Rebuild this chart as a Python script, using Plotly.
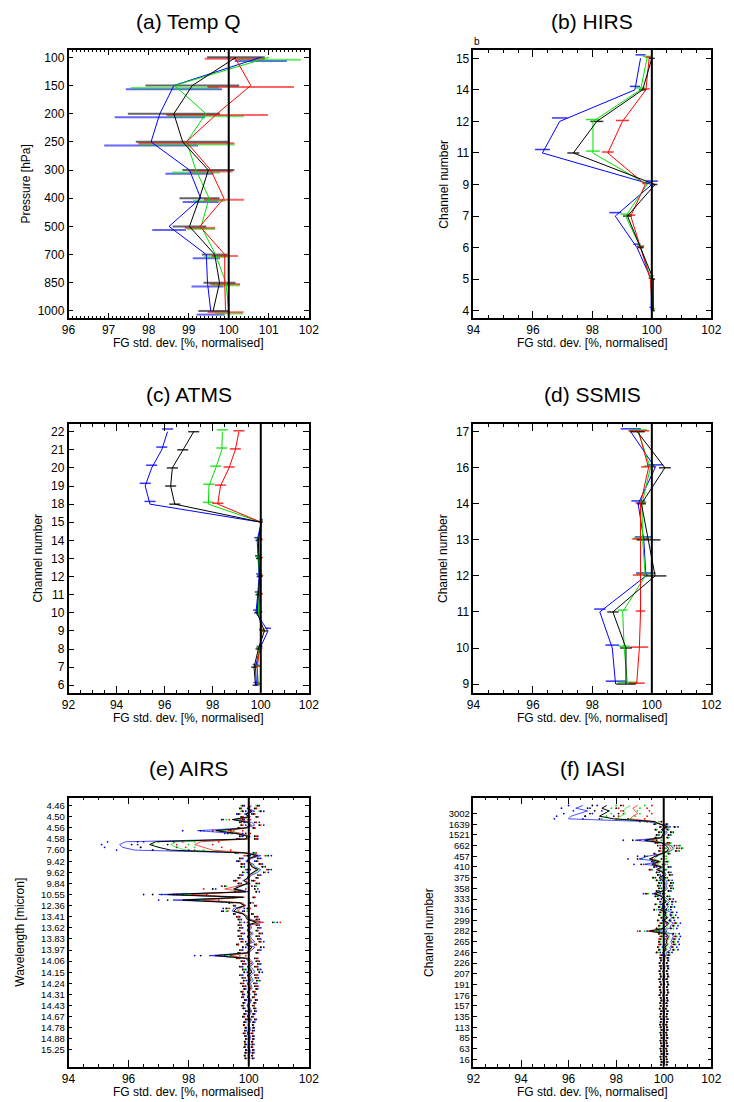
import plotly.graph_objects as go

W, H = 734, 1102
FONT = "Liberation Sans, Arial, sans-serif"
BLUE, GREEN, RED, BLACK = "#0000ff", "#00e000", "#ff0000", "#000000"

# ---------------- (a) Temp Q ----------------
tempq_levels = ["100", "150", "200", "250", "300", "400", "500", "700", "850", "1000"]
tempq_blue = [100.8, 98.63, 98.28, 98.06, 99.02, 99.30, 98.51, 99.44, 99.47, 99.55]
tempq_green = [101.0, 98.65, 99.43, 98.95, 99.18, 99.51, 99.31, 99.67, 99.93, 100.0]
tempq_red = [100.15, 100.55, 99.71, 98.94, 99.55, 99.88, 99.28, 99.90, 99.90, 99.92]
tempq_black = [100.18, 99.09, 98.63, 98.85, 99.49, 99.27, 99.02, 99.65, 99.77, 99.61]
tempq_blue_err = [0.65, 1.2, 1.13, 1.17, 0.6, 0.45, 0.42, 0.34, 0.4, 0.35]
tempq_green_err = [0.8, 1.1, 0.95, 1.2, 0.6, 0.4, 0.35, 0.3, 0.35, 0.35]
tempq_red_err = [0.75, 1.08, 1.27, 1.2, 0.55, 0.5, 0.38, 0.33, 0.38, 0.45]
tempq_black_err = [0.72, 1.17, 1.15, 1.17, 0.65, 0.5, 0.42, 0.32, 0.4, 0.37]

# ---------------- (b) HIRS ----------------
hirs_channels = ["15", "14", "12", "11", "9", "7", "6", "5", "4"]
hirs_blue = [99.62, 99.43, 96.9, 96.32, 100.0, 98.77, 99.5, 99.98, 99.98]
hirs_green = [99.84, 99.62, 98.02, 98.02, 99.84, 99.12, 99.62, 99.98, 100.05]
hirs_red = [99.91, 99.80, 99.01, 98.52, 99.78, 99.29, 99.62, 99.95, 100.02]
hirs_black = [100.0, 99.69, 98.15, 97.36, 100.11, 99.18, 99.62, 100.05, 100.05]
hirs_blue_err = [0.17, 0.17, 0.26, 0.25, 0.2, 0.2, 0.12, 0.08, 0.06]
hirs_green_err = [0.15, 0.15, 0.24, 0.23, 0.1, 0.17, 0.12, 0.06, 0.06]
hirs_red_err = [0.12, 0.13, 0.22, 0.2, 0.1, 0.15, 0.12, 0.06, 0.05]
hirs_black_err = [0.1, 0.12, 0.22, 0.2, 0.08, 0.15, 0.1, 0.06, 0.05]

# ---------------- (c) ATMS ----------------
atms_channels = ["22", "21", "20", "19", "18", "15", "14", "13", "12", "11", "10", "9", "8", "7", "6"]
atms_blue = [96.12, 95.88, 95.46, 95.19, 95.39, 100.02, 99.85, 99.88, 99.93, 99.87, 99.8, 100.3, 99.95, 99.78, 99.82]
atms_green = [98.4, 98.38, 98.13, 97.84, 97.82, 100.02, 99.93, 99.9, 99.95, 99.93, 99.9, 100.05, 99.93, 99.85, 99.9]
atms_red = [99.09, 98.94, 98.68, 98.32, 98.21, 100.02, 99.97, 99.97, 99.98, 99.97, 99.95, 100.05, 99.95, 99.85, 99.88]
atms_black = [97.21, 96.75, 96.32, 96.25, 96.42, 100.02, 99.9, 99.92, 99.95, 99.9, 99.85, 100.15, 99.9, 99.72, 99.78]
atms_err = [0.23, 0.23, 0.23, 0.23, 0.23, 0.06, 0.12, 0.12, 0.12, 0.12, 0.12, 0.12, 0.12, 0.12, 0.12]

# ---------------- (d) SSMIS ----------------
ssmis_channels = ["17", "16", "14", "13", "12", "11", "10", "9"]
ssmis_blue = [99.29, 100.11, 99.54, 99.73, 99.80, 98.25, 98.67, 98.78]
ssmis_green = [99.54, 99.95, 99.67, 99.69, 99.78, 99.02, 99.07, 99.18]
ssmis_red = [99.56, 99.89, 99.62, 99.62, 99.62, 99.62, 99.58, 99.49]
ssmis_black = [99.51, 100.44, 99.65, 99.89, 100.11, 98.69, 99.13, 99.13]
ssmis_blue_err = [0.34, 0.27, 0.23, 0.3, 0.33, 0.19, 0.23, 0.33]
ssmis_green_err = [0.3, 0.2, 0.15, 0.3, 0.3, 0.16, 0.19, 0.33]
ssmis_red_err = [0.35, 0.25, 0.17, 0.28, 0.26, 0.16, 0.3, 0.27]
ssmis_black_err = [0.25, 0.2, 0.15, 0.4, 0.38, 0.19, 0.2, 0.33]

# ---------------- (e) AIRS ----------------
airs_labels = ["4.46", "4.50", "4.56", "4.58", "7.60", "9.42", "9.62", "9.84", "10.55", "12.36", "13.41",
               "13.62", "13.83", "13.97", "14.06", "14.15", "14.24", "14.31", "14.43", "14.67", "14.78",
               "14.88", "15.25"]
airs_channel_index = list(range(92))
airs_black = [100.05, 99.95, 100.1, 99.9, 100.0, 99.45, 99.95, 100.05, 99.9, 98.9, 99.6, 99.95,
              99.9, 96.9, 96.7, 97.0, 97.4, 99.85, 100.3, 100.0, 99.95, 100.05, 100.1, 100.3,
              100.15, 100.0, 99.95, 99.85, 99.95, 99.7, 99.5, 99.9, 97.3, 99.8, 97.8, 99.7,
              99.85, 99.6, 99.5, 99.8, 99.9, 99.95, 100.25, 99.95, 100.0, 99.95, 100.05, 99.95,
              100.0, 100.05, 99.9, 100.1, 100.0, 99.95, 98.9, 99.9, 100.0, 100.05, 99.95, 100.05,
              100.1, 99.95, 100.0, 100.05, 99.95, 100.0, 100.05, 99.95, 100.0, 99.95, 100.05, 100.0,
              99.95, 100.0, 100.05, 100.0, 99.95, 100.05, 100.0, 99.98, 100.02, 100.0, 99.95, 100.0,
              100.02, 99.98, 100.0, 99.97, 100.02, 100.0, 99.98, 100.0]
airs_blue = [100.1, 100.0, 100.2, 99.85, 100.05, 99.5, 100.1, 100.2, 99.95, 98.3, 99.5, 100.05,
             100.0, 95.9, 95.7, 95.8, 96.2, 99.9, 100.4, 100.1, 99.9, 100.15, 100.2, 100.4,
             100.3, 100.1, 100.0, 99.8, 100.05, 99.6, 99.6, 100.0, 97.0, 99.85, 97.5, 99.7,
             99.9, 99.5, 99.45, 99.8, 100.0, 100.05, 100.4, 100.05, 100.1, 100.0, 100.15, 100.05,
             100.1, 100.2, 99.95, 100.2, 100.1, 100.0, 98.7, 100.0, 100.1, 100.15, 100.05, 100.15,
             100.2, 100.05, 100.1, 100.15, 100.05, 100.1, 100.1, 100.0, 100.05, 100.0, 100.1, 100.05,
             100.0, 100.05, 100.1, 100.05, 100.0, 100.1, 100.05, 100.0, 100.05, 100.05, 100.0, 100.05,
             100.05, 100.0, 100.05, 100.0, 100.05, 100.05, 100.0, 100.05]
airs_green = [100.0, 99.95, 100.05, 99.9, 100.0, 99.6, 100.0, 100.05, 99.9, 99.0, 99.7, 99.95,
              99.95, 97.6, 97.4, 97.6, 97.9, 99.9, 100.25, 100.0, 99.95, 100.1, 100.15, 100.35,
              100.2, 100.05, 99.95, 99.85, 100.0, 99.75, 99.5, 99.9, 97.6, 99.8, 98.0, 99.75,
              99.85, 99.65, 99.6, 99.85, 99.95, 100.0, 100.3, 100.0, 100.05, 99.95, 100.1, 100.0,
              100.05, 100.1, 99.95, 100.1, 100.05, 99.95, 99.2, 99.95, 100.05, 100.1, 100.0, 100.1,
              100.1, 100.0, 100.05, 100.1, 100.0, 100.05, 100.05, 99.95, 100.0, 100.0, 100.05, 100.0,
              100.0, 100.0, 100.05, 100.0, 99.95, 100.05, 100.0, 100.0, 100.02, 100.0, 99.98, 100.02,
              100.02, 100.0, 100.0, 99.98, 100.02, 100.02, 99.98, 100.02]
airs_red = [100.05, 100.0, 100.1, 99.95, 100.05, 99.7, 100.0, 100.1, 99.95, 99.3, 99.75, 100.0,
            99.95, 98.4, 98.2, 98.5, 98.8, 99.95, 100.2, 100.05, 100.0, 100.1, 100.1, 100.25,
            100.15, 100.05, 100.0, 99.9, 100.0, 99.6, 99.2, 99.9, 98.1, 99.85, 98.5, 99.8,
            99.9, 99.7, 99.65, 99.85, 99.95, 100.0, 100.5, 100.0, 100.05, 100.0, 100.1, 100.0,
            100.05, 100.1, 99.95, 100.1, 100.05, 100.0, 99.4, 99.95, 100.05, 100.1, 100.0, 100.05,
            100.1, 100.0, 100.05, 100.05, 100.0, 100.05, 100.05, 100.0, 100.0, 100.0, 100.05, 100.0,
            100.0, 100.0, 100.05, 100.0, 100.0, 100.05, 100.0, 100.0, 100.02, 100.0, 100.0, 100.02,
            100.02, 100.0, 100.0, 100.0, 100.02, 100.02, 100.0, 100.02]
airs_err = [0.25, 0.25, 0.3, 0.25, 0.25, 0.35, 0.25, 0.3, 0.25, 0.5, 0.3, 0.25,
            0.3, 0.6, 0.6, 0.6, 0.6, 0.3, 0.35, 0.3, 0.3, 0.3, 0.35, 0.35,
            0.35, 0.3, 0.3, 0.3, 0.3, 0.5, 0.7, 0.35, 0.5, 0.35, 0.5, 0.35,
            0.35, 0.35, 0.35, 0.3, 0.3, 0.3, 0.55, 0.3, 0.3, 0.3, 0.3, 0.3,
            0.3, 0.3, 0.3, 0.3, 0.3, 0.3, 0.5, 0.3, 0.25, 0.25, 0.25, 0.25,
            0.25, 0.25, 0.22, 0.22, 0.22, 0.2, 0.2, 0.2, 0.2, 0.18, 0.18, 0.18,
            0.18, 0.18, 0.15, 0.15, 0.15, 0.15, 0.15, 0.15, 0.13, 0.13, 0.13, 0.13,
            0.12, 0.12, 0.12, 0.12, 0.12, 0.12, 0.12, 0.12]

# ---------------- (f) IASI ----------------
iasi_labels = ["3002", "1639", "1521", "662", "457", "410", "375", "358", "333", "316", "299", "282",
               "265", "246", "226", "207", "191", "176", "157", "135", "113", "85", "63", "16"]
iasi_channel_index = list(range(-3, 95))
iasi_black = [97.6, 97.4, 97.7, 97.5, 97.3, 97.9, 99.6, 99.85, 100.15, 99.9, 100.05, 99.95,
              99.9, 99.2, 99.9, 100.1, 100.2, 100.15, 99.9, 99.6, 99.4, 99.8, 99.5, 99.9,
              99.7, 99.95, 100.0, 99.8, 99.95, 100.05, 100.0, 100.05, 99.95, 99.6, 99.9, 100.0,
              100.1, 99.9, 100.05, 99.85, 100.1, 100.05, 100.15, 100.0, 100.2, 100.1, 100.0, 99.4,
              100.1, 100.2, 100.15, 100.1, 100.15, 100.05, 100.1, 99.95, 100.05, 100.0, 100.03, 99.97,
              100.0, 100.03, 99.97, 100.0, 100.02, 99.96, 100.0, 100.03, 99.98, 100.0, 100.02, 99.97,
              100.0, 100.02, 99.98, 100.0, 99.96, 100.02, 100.0, 99.98, 100.02, 100.0, 99.97, 100.0,
              100.02, 99.98, 100.0, 100.02, 99.98, 100.0, 100.03, 99.98, 100.0, 100.02, 99.98, 100.0, 100.02, 100.0]
iasi_blue = [96.6, 96.3, 96.8, 96.4, 96.1, 96.0, 99.3, 99.9, 100.3, 99.95, 100.15, 100.05,
             99.95, 98.8, 100.0, 100.3, 100.4, 100.3, 99.95, 99.3, 99.0, 99.85, 99.2, 100.0,
             99.8, 100.05, 100.1, 99.9, 100.1, 100.15, 100.1, 100.15, 100.05, 99.5, 100.0, 100.15,
             100.25, 100.1, 100.2, 100.05, 100.3, 100.25, 100.35, 100.2, 100.4, 100.3, 100.25, 99.7,
             100.35, 100.4, 100.35, 100.3, 100.35, 100.25, 100.3, 100.1, 100.1, 100.05, 100.05, 100.0,
             100.05, 100.05, 100.0, 100.02, 100.05, 100.0, 100.02, 100.05, 100.0, 100.02, 100.05, 100.0,
             100.02, 100.05, 100.0, 100.02, 99.98, 100.05, 100.02, 100.0, 100.05, 100.02, 100.0, 100.02,
             100.05, 100.0, 100.02, 100.05, 100.0, 100.02, 100.05, 100.0, 100.02, 100.05, 100.0, 100.02, 100.05, 100.02]
iasi_green = [98.6, 98.4, 98.3, 98.4, 98.2, 98.0, 99.5, 99.9, 100.2, 99.95, 100.1, 100.0,
              99.95, 99.4, 100.05, 100.35, 100.45, 100.3, 99.95, 99.7, 99.6, 99.9, 99.7, 99.95,
              99.8, 100.0, 100.05, 99.85, 100.0, 100.1, 100.05, 100.1, 100.0, 99.7, 99.95, 100.05,
              100.15, 99.95, 100.1, 99.95, 100.15, 100.1, 100.2, 100.05, 100.25, 100.15, 100.1, 99.6,
              100.2, 100.25, 100.2, 100.15, 100.2, 100.1, 100.15, 100.0, 100.05, 100.0, 100.03, 99.98,
              100.0, 100.03, 99.98, 100.0, 100.03, 99.97, 100.0, 100.03, 99.98, 100.0, 100.03, 99.98,
              100.0, 100.03, 99.98, 100.0, 99.97, 100.03, 100.0, 99.98, 100.03, 100.0, 99.98, 100.0,
              100.03, 99.98, 100.0, 100.03, 99.98, 100.0, 100.03, 99.98, 100.0, 100.03, 99.98, 100.0, 100.03, 100.0]
iasi_red = [98.9, 98.7, 98.8, 98.9, 98.7, 98.6, 99.6, 99.9, 100.15, 99.9, 100.05, 99.95,
            99.9, 99.5, 99.95, 100.2, 100.3, 100.2, 99.9, 99.6, 99.5, 99.85, 99.6, 99.9,
            99.75, 99.95, 100.0, 99.8, 99.95, 100.05, 100.0, 100.05, 99.95, 99.65, 99.9, 100.0,
            100.1, 99.9, 100.05, 99.85, 100.1, 100.05, 100.15, 100.0, 100.15, 100.1, 100.0, 99.3,
            100.1, 100.15, 100.1, 100.1, 100.1, 100.05, 100.1, 99.95, 100.0, 100.0, 100.02, 99.97,
            100.0, 100.02, 99.97, 100.0, 100.02, 99.96, 100.0, 100.02, 99.97, 100.0, 100.02, 99.97,
            100.0, 100.02, 99.98, 100.0, 99.96, 100.02, 100.0, 99.98, 100.02, 100.0, 99.97, 100.0,
            100.02, 99.98, 100.0, 100.02, 99.98, 100.0, 100.02, 99.98, 100.0, 100.02, 99.98, 100.0, 100.02, 100.0]
iasi_err = [0.6, 0.6, 0.6, 0.6, 0.6, 0.6, 0.3, 0.25, 0.3, 0.25, 0.25, 0.25,
            0.25, 0.5, 0.25, 0.35, 0.35, 0.35, 0.3, 0.4, 0.5, 0.3, 0.45, 0.3,
            0.3, 0.25, 0.25, 0.25, 0.25, 0.25, 0.25, 0.25, 0.25, 0.35, 0.25, 0.25,
            0.25, 0.25, 0.25, 0.25, 0.25, 0.25, 0.25, 0.25, 0.3, 0.3, 0.3, 0.4,
            0.3, 0.3, 0.3, 0.3, 0.3, 0.3, 0.3, 0.25, 0.15, 0.15, 0.15, 0.15,
            0.15, 0.15, 0.15, 0.15, 0.15, 0.15, 0.15, 0.15, 0.15, 0.15, 0.15, 0.15,
            0.13, 0.13, 0.13, 0.13, 0.13, 0.13, 0.13, 0.13, 0.13, 0.13, 0.13, 0.13,
            0.12, 0.12, 0.12, 0.12, 0.12, 0.12, 0.12, 0.12, 0.12, 0.12, 0.12, 0.12, 0.12, 0.12]

# ---------------- layout geometry (pixels) ----------------
LEFT = [63 / W, 309 / W]
RIGHT = [477.5 / W, 721 / W]
ROW1 = [1 - 318 / H, 1 - 50 / H]
ROW2 = [1 - 692.7 / H, 1 - 424 / H]
ROW3 = [1 - 1066.5 / H, 1 - 797.5 / H]

fig = go.Figure()


def axes_names(n):
    s = "" if n == 1 else str(n)
    return "x" + s, "y" + s, "xaxis" + s, "yaxis" + s


def profile_panel(n, labels, series, offsets, thick, lw=1.0, op=1.0):
    xa, ya, _, _ = axes_names(n)
    idx = list(range(len(labels)))
    for (vals, err, col), off in zip(series, offsets):
        fig.add_trace(go.Scatter(
            x=vals, y=[i + off for i in idx], mode="markers", xaxis=xa, yaxis=ya, opacity=op,
            marker=dict(size=1, opacity=0, color=col),
            error_x=dict(type="data", array=err, color=col, thickness=thick, width=0),
            hoverinfo="skip"))
    for vals, err, col in series:
        fig.add_trace(go.Scatter(x=vals, y=idx, mode="lines", xaxis=xa, yaxis=ya,
                                 line=dict(color=col, width=lw), hoverinfo="skip"))


def spectral_panel(n, chans, series, err):
    xa, ya, _, _ = axes_names(n)
    for vals, col in series:
        xs = [v - e for v, e in zip(vals, err)] + [v + e for v, e in zip(vals, err)]
        ys = list(chans) + list(chans)
        fig.add_trace(go.Scatter(x=xs, y=ys, mode="markers", xaxis=xa, yaxis=ya,
                                 marker=dict(size=1.8, color=col, line=dict(width=0)),
                                 hoverinfo="skip"))
    for vals, col in series:
        fig.add_trace(go.Scatter(x=vals, y=chans, mode="lines", xaxis=xa, yaxis=ya,
                                 line=dict(color=col, width=1.0 if col == BLACK else 0.7),
                                 hoverinfo="skip"))


profile_panel(1, tempq_levels,
              [(tempq_blue, tempq_blue_err, BLUE), (tempq_green, tempq_green_err, GREEN),
               (tempq_red, tempq_red_err, RED), (tempq_black, tempq_black_err, BLACK)],
              [0.13, 0.09, 0.05, 0.0], 2.0, op=0.6)
profile_panel(2, hirs_channels,
              [(hirs_blue, hirs_blue_err, BLUE), (hirs_green, hirs_green_err, GREEN),
               (hirs_red, hirs_red_err, RED), (hirs_black, hirs_black_err, BLACK)],
              [-0.11, -0.06, -0.03, 0.0], 1.5, op=0.8)
profile_panel(3, atms_channels,
              [(atms_blue, atms_err, BLUE), (atms_green, atms_err, GREEN),
               (atms_red, atms_err, RED), (atms_black, atms_err, BLACK)],
              [-0.15, -0.1, -0.05, 0.0], 1.5, op=0.8)
profile_panel(4, ssmis_channels,
              [(ssmis_blue, ssmis_blue_err, BLUE), (ssmis_green, ssmis_green_err, GREEN),
               (ssmis_red, ssmis_red_err, RED), (ssmis_black, ssmis_black_err, BLACK)],
              [-0.08, -0.05, -0.025, 0.0], 1.5, op=0.8)
spectral_panel(5, airs_channel_index,
               [(airs_blue, BLUE), (airs_green, GREEN), (airs_red, RED), (airs_black, BLACK)], airs_err)
spectral_panel(6, iasi_channel_index,
               [(iasi_blue, BLUE), (iasi_green, GREEN), (iasi_red, RED), (iasi_black, BLACK)], iasi_err)

tickfont = dict(size=12, family=FONT, color="black")
smallfont = dict(size=9.5, family=FONT, color="black")
panel_cfg = [
    # n, xdom, ydom, xrange, dtick, minor, yrange, tickvals, ticktext, yticklen, yfont
    (1, LEFT, ROW1, [96, 102], 1, 0.1, [9.25, -0.26], list(range(len(tempq_levels))), tempq_levels, 5, tickfont),
    (2, RIGHT, ROW1, [94, 102], 2, 0.5, [8.23, -0.263], list(range(len(hirs_channels))), hirs_channels, 6, tickfont),
    (3, LEFT, ROW2, [92, 102], 2, 0.5, [14.41, -0.425], list(range(len(atms_channels))), atms_channels, 6, tickfont),
    (4, RIGHT, ROW2, [94, 102], 2, 0.5, [7.24, -0.214], list(range(len(ssmis_channels))), ssmis_channels, 6, tickfont),
    (5, LEFT, ROW3, [94, 102], 2, 0.5, [93.95, -2.95], [4 * i for i in range(len(airs_labels))], airs_labels, 4, smallfont),
    (6, RIGHT, ROW3, [92, 102], 2, 0.5, [94.7, -6.0], [4 * i for i in range(len(iasi_labels))], iasi_labels, 4, smallfont),
]
layout_axes = {}
shapes = []
for n, xd, yd, xr, dt, mn, yr, tv, tt, ytl, yf in panel_cfg:
    xa, ya, xk, yk = axes_names(n)
    layout_axes[xk] = dict(
        domain=xd, range=xr, anchor=ya, tickmode="linear", tick0=xr[0], dtick=dt,
        ticks="inside", ticklen=7 if mn == 0.5 else 5, tickwidth=1, tickcolor="black",
        mirror="allticks", showline=True, linewidth=1.5, linecolor="black",
        showgrid=False, zeroline=False, tickfont=tickfont,
        minor=dict(ticks="inside", ticklen=3 if mn == 0.5 else 2.5, dtick=mn, tick0=xr[0],
                   tickcolor="black", tickwidth=1, showgrid=False),
    )
    layout_axes[yk] = dict(
        domain=yd, range=yr, anchor=xa, tickmode="array", tickvals=tv, ticktext=tt,
        ticks="inside", ticklen=ytl, tickwidth=1, tickcolor="black",
        mirror="allticks", showline=True, linewidth=1.5, linecolor="black",
        showgrid=False, zeroline=False, tickfont=yf,
    )
    shapes.append(dict(type="line", xref=xa, yref=ya + " domain", x0=100, x1=100, y0=0, y1=1,
                       line=dict(color="black", width=2), layer="above"))

annotations = []


def ann(text, xpx, ypx, size, angle=0):
    annotations.append(dict(text=text, x=xpx / W, y=1 - ypx / H, xref="paper", yref="paper",
                            showarrow=False, textangle=angle, xanchor="center", yanchor="middle",
                            font=dict(size=size, family=FONT, color="black")))


lc, rc = (63 + 309) / 2, (477.5 + 721) / 2
ann("(a) Temp Q", lc, 22, 21)
ann("(b) HIRS", rc, 22, 21)
ann("(c) ATMS", lc, 395, 21)
ann("(d) SSMIS", rc, 395, 21)
ann("(e) AIRS", lc, 768, 21)
ann("(f) IASI", rc, 768, 21)
xt = "FG std. dev. [%, normalised]"
for cx, by in [(lc, 318), (rc, 318), (lc, 692.7), (rc, 692.7), (lc, 1066.5), (rc, 1066.5)]:
    ann(xt, cx, by + 25, 12)
ann("Pressure [hPa]", 19, (50 + 318) / 2, 12, -90)
ann("Channel number", 447, (50 + 318) / 2, 12, -90)
ann("Channel number", 32, (424 + 692.7) / 2, 12, -90)
ann("Channel number", 447, (424 + 692.7) / 2, 12, -90)
ann("Wavelength [micron]", 13, (797.5 + 1066.5) / 2, 12, -90)
ann("Channel number", 432, (797.5 + 1066.5) / 2, 12, -90)
ann("b", 481, 42, 10)

fig.update_layout(
    width=W, height=H, margin=dict(l=0, r=0, t=0, b=0),
    paper_bgcolor="white", plot_bgcolor="white", showlegend=False,
    hovermode=False, shapes=shapes, annotations=annotations,
    font=dict(family=FONT, color="black"), **layout_axes)

fig.write_html("out.html")
